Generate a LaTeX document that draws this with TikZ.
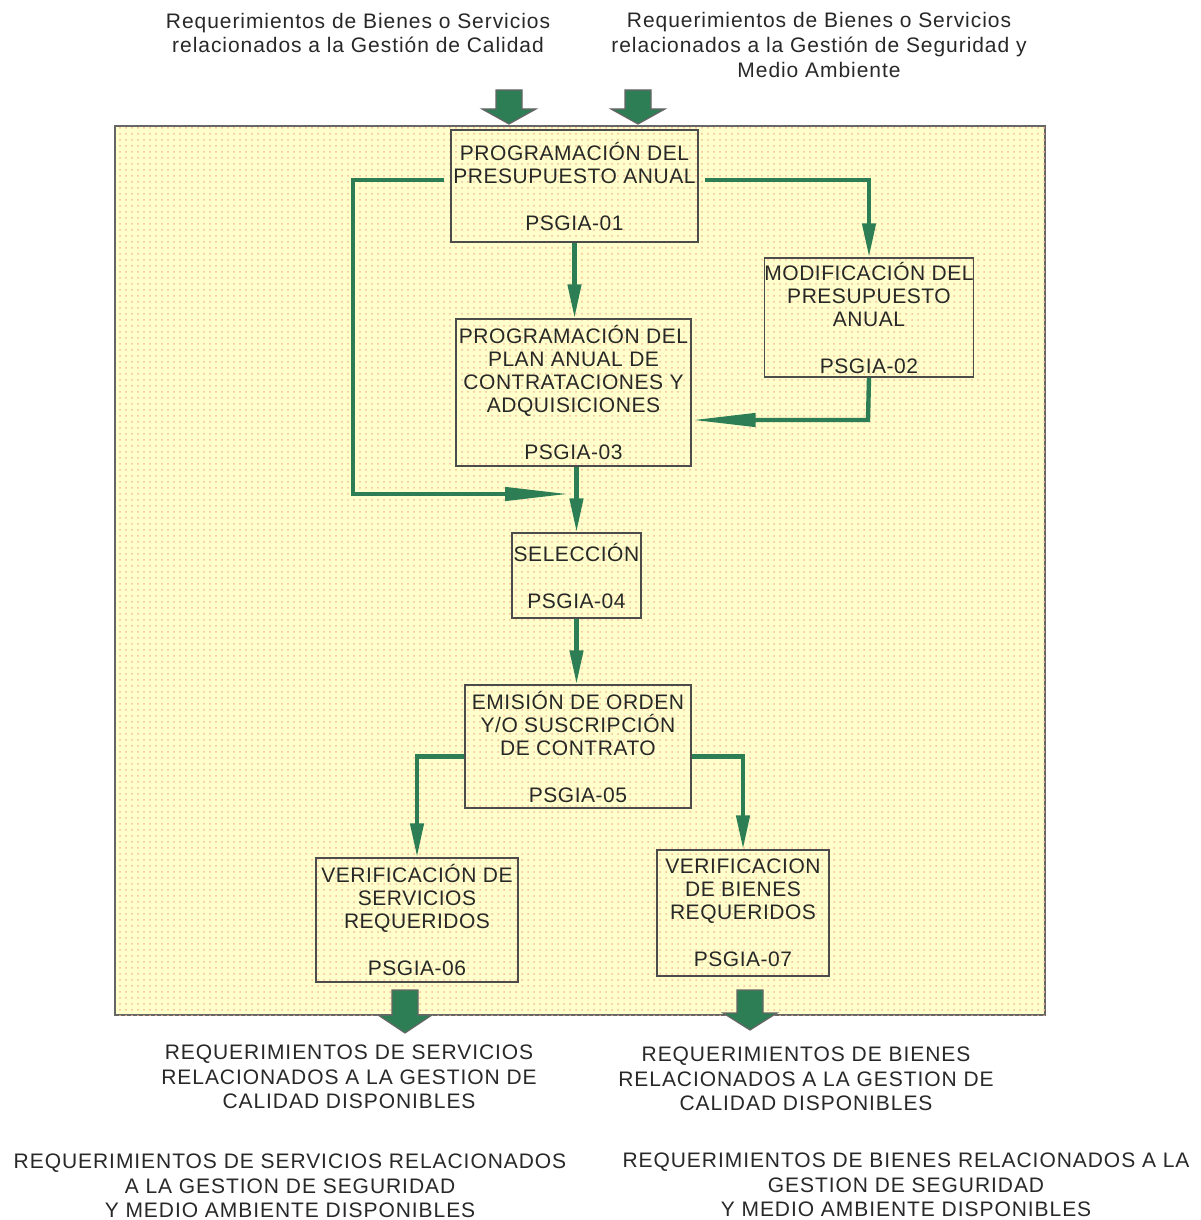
\documentclass[tikz,border=0pt]{standalone}
\usepackage{fontspec}
\setmainfont{Liberation Sans}
\newfontfamily\boxfont[LetterSpace=2.5]{Liberation Sans}
\newfontfamily\capfont[LetterSpace=4.5]{Liberation Sans}
\usetikzlibrary{arrows.meta, patterns, positioning}
\definecolor{panelfill}{RGB}{255,255,204}
\definecolor{dotcolor}{RGB}{250,185,150}
\definecolor{flowgreen}{RGB}{45,125,85}
\definecolor{inkgray}{RGB}{40,40,40}
\tikzstyle{block} = [draw=black!70, line width=0.7pt, rectangle, align=center, inner sep=0pt, text=inkgray,
  font=\boxfont\fontsize{10.5}{11.5}\selectfont]
\tikzstyle{flow} = [draw=flowgreen, line width=2.2pt, -{Triangle[length=17pt, width=6.5pt]}]
\tikzstyle{flowlong} = [flow, -{Triangle[length=32pt, width=6.5pt]}]
\tikzstyle{caption} = [align=center, text=inkgray, inner sep=0pt, font=\capfont\fontsize{10.5}{12.3}\selectfont]
% block arrow: centre x, top, head start, tip
\newcommand{\bigarrow}[4]{%
  \filldraw[fill=flowgreen, draw=black!60, line width=0.6pt]
    (#1-13,#2) -- (#1+13,#2) -- (#1+13,#3) -- (#1+27,#3) -- (#1,#4) -- (#1-27,#3) -- (#1-13,#3) -- cycle;}

\begin{document}
\begin{tikzpicture}[x=0.5pt, y=-0.5pt]
  \useasboundingbox[fill=white] (0,0) rectangle (1200,1220);
  \draw[fill=panelfill, draw=black!60, line width=0.7pt, postaction={pattern=dots, pattern color=dotcolor}]
    (115,126) rectangle (1045,1015);

  % inputs
  \node[caption] (reqcal) at (358,33) {Requerimientos de Bienes o Servicios\\relacionados a la Gestión de Calidad};
  \node[caption] (reqseg) at (819,45) {Requerimientos de Bienes o Servicios\\relacionados a la Gestión de Seguridad y\\Medio Ambiente};
  \bigarrow{509}{90}{109}{124}
  \bigarrow{638}{90}{109}{124}

  % procesos
  \node[block, minimum width=123.5pt, minimum height=56pt] (psgia01) at (574.5,186)
    {PROGRAMACIÓN DEL\\PRESUPUESTO ANUAL\\[12pt]PSGIA-01};
  \node[block, minimum width=104pt, minimum height=59.5pt] (psgia02) at (869,317.5)
    {MODIFICACIÓN DEL\\PRESUPUESTO\\ANUAL\\[12pt]PSGIA-02};
  \node[block, minimum width=117.5pt, minimum height=73.5pt] (psgia03) at (573.5,392.5)
    {PROGRAMACIÓN DEL\\PLAN ANUAL DE\\CONTRATACIONES Y\\ADQUISICIONES\\[12pt]PSGIA-03};
  \node[block, minimum width=64.5pt, minimum height=42.5pt] (psgia04) at (576.5,575.5)
    {SELECCIÓN\\[12pt]PSGIA-04};
  \node[block, minimum width=113pt, minimum height=61.5pt] (psgia05) at (578,746.5)
    {EMISIÓN DE ORDEN\\Y/O SUSCRIPCIÓN\\DE CONTRATO\\[12pt]PSGIA-05};
  \node[block, minimum width=101pt, minimum height=62pt] (psgia06) at (417,920)
    {VERIFICACIÓN DE\\SERVICIOS\\REQUERIDOS\\[12pt]PSGIA-06};
  \node[block, minimum width=86pt, minimum height=63pt] (psgia07) at (743,913)
    {VERIFICACION\\DE BIENES\\REQUERIDOS\\[12pt]PSGIA-07};

  % flujos
  \coordinate (loopleft) at (353,494);
  \coordinate (loopend) at (569,494);
  \coordinate (modjoin) at (868,420);
  \draw[flow] (psgia01.south) -- (psgia01.south |- psgia03.north);
  \draw[flow] ([xshift=3pt, yshift=3pt]psgia01.east) -| (psgia02.north);
  \draw[flowlong] ([xshift=-3pt, yshift=3pt]psgia01.west) -| (loopleft) -- (loopend);
  \draw[flowlong] (psgia02.south) -- (modjoin) -- (modjoin -| psgia03.east);
  \draw[flow] (psgia04.north |- psgia03.south) -- (psgia04.north);
  \draw[flow] (psgia04.south) -- (psgia04.south |- psgia05.north);
  \draw[flow] ([yshift=-5pt]psgia05.west) -| (psgia06.north);
  \draw[flow] ([yshift=-5pt]psgia05.east) -| (psgia07.north);

  % salidas
  \bigarrow{405}{990}{1015}{1033}
  \bigarrow{750}{990}{1013}{1030}
  \node[caption] (dispserv) at (349,1077) {REQUERIMIENTOS DE SERVICIOS\\RELACIONADOS A LA GESTION DE\\CALIDAD DISPONIBLES};
  \node[caption] (dispbien) at (806,1079) {REQUERIMIENTOS DE BIENES\\RELACIONADOS A LA GESTION DE\\CALIDAD DISPONIBLES};
  \node[caption] (segserv) at (290,1186) {REQUERIMIENTOS DE SERVICIOS RELACIONADOS\\A LA GESTION DE SEGURIDAD\\Y MEDIO AMBIENTE DISPONIBLES};
  \node[caption] (segbien) at (906,1185) {REQUERIMIENTOS DE BIENES RELACIONADOS A LA\\GESTION DE SEGURIDAD\\Y MEDIO AMBIENTE DISPONIBLES};
\end{tikzpicture}
\end{document}
